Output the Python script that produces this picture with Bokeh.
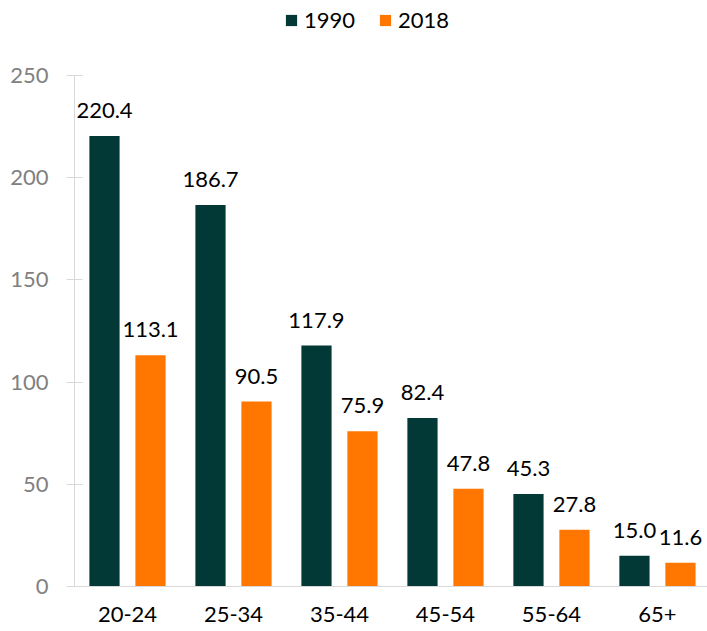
from bokeh.plotting import figure
from bokeh.layouts import column
from bokeh.models import (Range1d, FixedTicker, ColumnDataSource, LabelSet, Legend, LegendItem)
from bokeh.core.properties import value
from bokeh.embed import file_html
from bokeh.resources import INLINE

categories = ["20-24", "25-34", "35-44", "45-54", "55-64", "65+"]
series_names = ["1990", "2018"]
values_1990 = [220.4, 186.7, 117.9, 82.4, 45.3, 15.0]
values_2018 = [113.1, 90.5, 75.9, 47.8, 27.8, 11.6]
y_ticks = [0, 50, 100, 150, 200, 250]

C1990 = "#023937"
C2018 = "#FF7700"
FONT = "Lato"

centers = [i + 0.5 for i in range(len(categories))]
off = 0.217
bw = 0.285

src1 = ColumnDataSource(dict(x=[c - off for c in centers], y=values_1990,
                             lab=[f"{v:.1f}" for v in values_1990]))
src2 = ColumnDataSource(dict(x=[c + off for c in centers], y=values_2018,
                             lab=[f"{v:.1f}" for v in values_2018]))

# ---- legend strip (hidden renderers; only the legend swatches show) ----
lg = figure(width=707, height=41, output_backend="svg", toolbar_location=None,
            x_axis_type=None, y_axis_type=None, x_range=Range1d(0, 6), y_range=Range1d(-2, -1),
            min_border=0)
lg.outline_line_color = None
lg.grid.visible = False
d1 = lg.vbar(x="x", top="y", width=bw, source=src1, fill_color=C1990, line_color=None, visible=False)
d2 = lg.vbar(x="x", top="y", width=bw, source=src2, fill_color=C2018, line_color=None, visible=False)
legend = Legend(items=[LegendItem(label=series_names[0], renderers=[d1]),
                       LegendItem(label=series_names[1], renderers=[d2])],
                location=(210, 8), orientation="horizontal",
                glyph_width=14, glyph_height=14, label_standoff=6, spacing=23,
                padding=0, margin=0, border_line_color=None, background_fill_alpha=0,
                label_text_font=FONT, label_text_font_size="22px", label_text_color="#000000")
lg.add_layout(legend, "center")

# ---- main chart ----
p = figure(width=707, height=590, output_backend="svg", toolbar_location=None,
           x_range=Range1d(0, 5.972), y_range=Range1d(0, 250),
           min_border_left=74, min_border_right=0, min_border_top=34, min_border_bottom=45)
p.outline_line_color = None
p.grid.visible = False

r1 = p.vbar(x="x", top="y", width=bw, source=src1, fill_color=C1990, line_color=None)
r2 = p.vbar(x="x", top="y", width=bw, source=src2, fill_color=C2018, line_color=None)

for s in (src1, src2):
    p.add_layout(LabelSet(x="x", y="y", text="lab", source=s, text_align="center",
                          text_baseline="alphabetic", y_offset=18,
                          text_font=value(FONT), text_font_size="22px", text_color="#000000"))

ya = p.yaxis[0]
ya.ticker = FixedTicker(ticks=y_ticks)
ya.axis_line_color = "#D9D9D9"
ya.major_tick_line_color = "#D9D9D9"
ya.major_tick_in = 8
ya.major_tick_out = 8
ya.minor_tick_line_color = None
ya.major_label_text_font = FONT
ya.major_label_text_font_size = "22px"
ya.major_label_text_color = "#808080"
ya.major_label_standoff = 18

xa = p.xaxis[0]
xa.ticker = FixedTicker(ticks=centers)
xa.major_label_overrides = {c: cat for c, cat in zip(centers, categories)}
xa.axis_line_color = "#D9D9D9"
xa.major_tick_line_color = None
xa.major_tick_in = 0
xa.major_tick_out = 0
xa.minor_tick_line_color = None
xa.major_label_text_font = FONT
xa.major_label_text_font_size = "22px"
xa.major_label_text_color = "#000000"
xa.major_label_standoff = 20

layout = column(lg, p, spacing=0)
open("out.html", "w").write(file_html(layout, INLINE))
